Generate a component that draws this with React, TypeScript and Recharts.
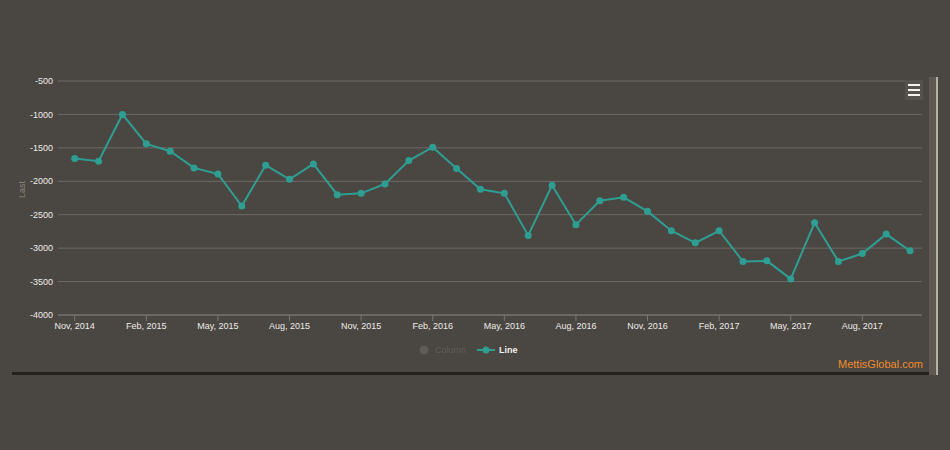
import { CartesianGrid, Legend, Line, LineChart, XAxis, YAxis } from "recharts";

const months = [
  "Nov, 2014", "Dec, 2014", "Jan, 2015", "Feb, 2015", "Mar, 2015", "Apr, 2015",
  "May, 2015", "Jun, 2015", "Jul, 2015", "Aug, 2015", "Sep, 2015", "Oct, 2015",
  "Nov, 2015", "Dec, 2015", "Jan, 2016", "Feb, 2016", "Mar, 2016", "Apr, 2016",
  "May, 2016", "Jun, 2016", "Jul, 2016", "Aug, 2016", "Sep, 2016", "Oct, 2016",
  "Nov, 2016", "Dec, 2016", "Jan, 2017", "Feb, 2017", "Mar, 2017", "Apr, 2017",
  "May, 2017", "Jun, 2017", "Jul, 2017", "Aug, 2017", "Sep, 2017", "Oct, 2017",
];

const lastValues = [
  -1660, -1700, -1000, -1440, -1550, -1800, -1890, -2370, -1760, -1970, -1740, -2200,
  -2180, -2040, -1690, -1490, -1810, -2120, -2180, -2810, -2060, -2650, -2290, -2240,
  -2450, -2740, -2920, -2740, -3200, -3190, -3460, -2620, -3200, -3080, -2790, -3040,
];

const yTicks = [-500, -1000, -1500, -2000, -2500, -3000, -3500, -4000];
const xTicks = [0, 3, 6, 9, 12, 15, 18, 21, 24, 27, 30, 33];

const data = months.map((m, i) => ({ idx: i, month: m, last: lastValues[i] }));

const BG = "#4a4642";
const TEAL = "#2f9e92";
const FONT = "'Liberation Sans', Arial, sans-serif";

const LegendContent = () => (
  <div style={{ position: "relative", width: 950, height: 20, fontFamily: FONT, fontSize: 9 }}>
    <svg width={950} height={20} style={{ position: "absolute", left: 0, top: 0 }}>
      <circle cx={424} cy={10} r={4.5} fill="#5f5b56" />
      <text x={435} y={13} fill="#625e59" fontSize={9}>Column</text>
      <line x1={477} y1={10} x2={495} y2={10} stroke={TEAL} strokeWidth={2} />
      <circle cx={486} cy={10} r={3.5} fill={TEAL} />
      <text x={499} y={13} fill="#f2f0ec" fontSize={9} fontWeight="bold">Line</text>
    </svg>
  </div>
);

export default function App() {
  return (
    <div style={{ position: "absolute", left: 0, top: 0, width: 950, height: 450, background: BG, overflow: "hidden", fontFamily: FONT }}>
      <LineChart width={950} height={450} data={data} margin={{ top: 81, right: 28, bottom: 95, left: 18 }}>
        <CartesianGrid vertical={false} stroke="#6e6a65" strokeWidth={1} />
        <XAxis
          dataKey="idx"
          type="number"
          domain={[-0.7, 35.5]}
          ticks={xTicks}
          tickFormatter={(v: number) => months[v]}
          height={20}
          stroke="#7a766f"
          tickSize={6}
          tickMargin={2}
          tick={{ fill: "#eeece8", fontSize: 9, fontFamily: FONT }}
          interval={0}
        />
        <YAxis
          domain={[-4000, -500]}
          ticks={yTicks}
          width={40}
          axisLine={false}
          tickLine={false}
          tickSize={0}
          tickMargin={5}
          tick={{ fill: "#eeece8", fontSize: 9, fontFamily: FONT }}
          label={{ value: "Last", angle: -90, position: "insideLeft", offset: 0, fill: "#8a857f", fontSize: 9, dx: 4 }}
        />
        <Legend verticalAlign="bottom" content={<LegendContent />} wrapperStyle={{ left: 0, top: 340, width: 950 }} />
        <Line
          type="linear"
          dataKey="last"
          name="Line"
          stroke={TEAL}
          strokeWidth={2}
          dot={{ r: 3.5, fill: TEAL, stroke: TEAL, strokeWidth: 0 }}
          activeDot={false}
          isAnimationActive={false}
        />
      </LineChart>
      {/* menu button */}
      <div style={{ position: "absolute", left: 905, top: 80, width: 18, height: 20, background: "#55514c" }}>
        {[4, 9, 14].map((t) => (
          <div key={t} style={{ position: "absolute", left: 3, top: t, width: 12, height: 2, background: "#f4f2ee" }} />
        ))}
      </div>
      {/* frame lines */}
      <div style={{ position: "absolute", left: 12, top: 372, width: 918, height: 3, background: "#23201d" }} />
      <div style={{ position: "absolute", left: 929, top: 77, width: 7, height: 298, background: "#5d5952" }} />
      <div style={{ position: "absolute", left: 936, top: 77, width: 2, height: 298, background: "#b5b1a8" }} />
      <div style={{ position: "absolute", left: 838, top: 358, fontSize: 11, color: "#f08c2c", fontFamily: FONT }}>MettisGlobal.com</div>
    </div>
  );
}
